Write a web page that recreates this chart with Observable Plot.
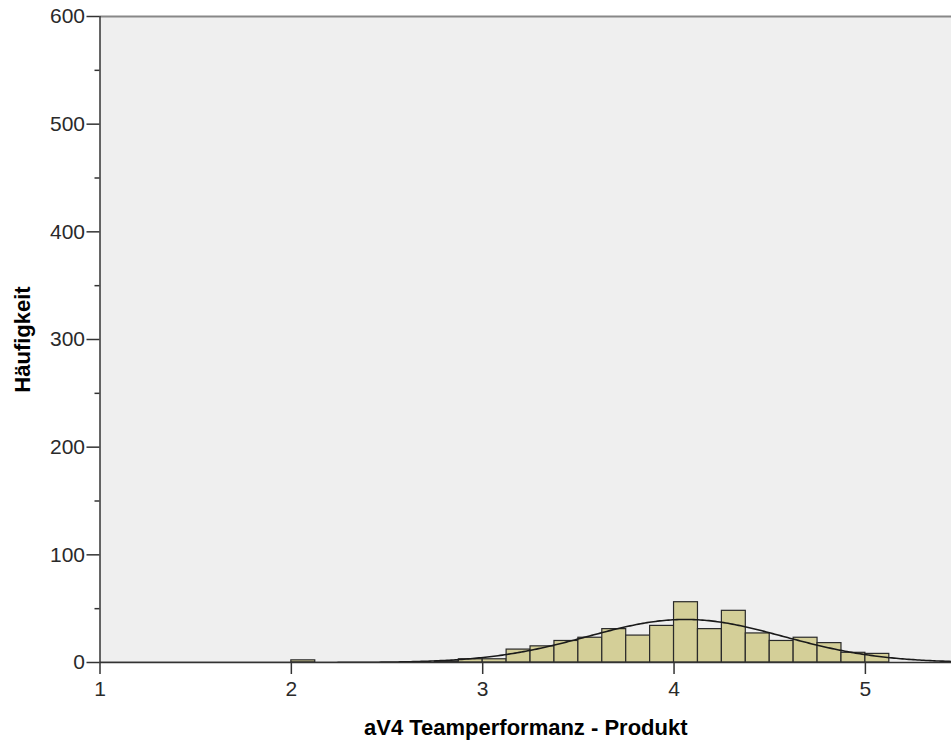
<!DOCTYPE html>
<html>
<head>
<meta charset="utf-8">
<script src="https://cdn.jsdelivr.net/npm/d3@7"></script>
<script src="https://cdn.jsdelivr.net/npm/@observablehq/plot@0.6"></script>
<style>
  html, body { margin: 0; padding: 0; background: #fff; }
  #chart svg { display: block; }
</style>
</head>
<body>
<div id="chart"></div>
<script>
// Histogram bins: lower edge of each bin and its frequency (bin width 0.125)
const binWidth = 0.125;
const binLower = [2.0, 2.75, 2.875, 3.0, 3.125, 3.25, 3.375, 3.5, 3.625, 3.75,
                  3.875, 4.0, 4.125, 4.25, 4.375, 4.5, 4.625, 4.75, 4.875, 5.0];
const binCount = [2, 1, 3, 3, 12, 15, 20, 23, 31, 25,
                  34, 56, 31, 48, 27, 20, 23, 18, 9, 8];

// Fitted normal curve parameters
const normalMean = 4.06;
const normalSD = 0.51;

// Axis ticks
const xTicks = [1, 2, 3, 4, 5];
const yTicks = [0, 100, 200, 300, 400, 500, 600];
const yMinorTicks = [50, 150, 250, 350, 450, 550];

const xDomain = [1, 5.45];
const yDomain = [0, 600];

const bins = binLower.map((x0, i) => ({x1: x0, x2: x0 + binWidth, count: binCount[i]}));
const total = d3.sum(binCount);

// Normal density scaled to counts per bin
const curve = d3.range(0, 401).map(i => {
  const x = xDomain[0] + (xDomain[1] - xDomain[0]) * i / 400;
  const z = (x - normalMean) / normalSD;
  return {x, y: total * binWidth * Math.exp(-0.5 * z * z) / (normalSD * Math.sqrt(2 * Math.PI))};
});

const font = "'Liberation Sans', Arial, sans-serif";

const chart = Plot.plot({
  width: 951,
  height: 740,
  marginLeft: 99.5,
  marginRight: 0,
  marginTop: 16,
  marginBottom: 78,
  style: {fontFamily: font, fontSize: "21px", color: "#222", background: "#fff"},
  x: {domain: xDomain},
  y: {domain: yDomain},
  marks: [
    Plot.frame({fill: "#efefef", stroke: null}),
    Plot.rectY(bins, {x1: "x1", x2: "x2", y: "count", fill: "#d4cf98", stroke: "#2a2a2a", strokeWidth: 1.2}),
    Plot.line(curve, {x: "x", y: "y", stroke: "#1a1a1a", strokeWidth: 1.6, clip: true}),
    Plot.ruleY([600], {stroke: "#888", strokeWidth: 2}),
    Plot.ruleY([0], {stroke: "#333", strokeWidth: 1.5}),
    Plot.ruleX([1], {stroke: "#333", strokeWidth: 1.5}),
    Plot.axisY(yTicks, {tickSize: 13, tickPadding: 2, tickFormat: d3.format("d"), stroke: "#333", strokeWidth: 1.5, label: null, fill: "#2a2a2a"}),
    Plot.axisY(yMinorTicks, {tickSize: 5, tickFormat: () => "", stroke: "#333", strokeWidth: 1.5, label: null}),
    Plot.axisX(xTicks, {tickSize: 12, tickPadding: 7, tickFormat: d3.format("d"), stroke: "#333", strokeWidth: 1.5, label: null, fill: "#2a2a2a"}),
    Plot.text(["Häufigkeit"], {frameAnchor: "left", dx: -77, rotate: -90, text: d => d,
      fontWeight: "bold", fontSize: 22, fill: "#000", textAnchor: "middle", lineAnchor: "middle"}),
    Plot.text(["aV4 Teamperformanz - Produkt"], {frameAnchor: "bottom", dy: 65, text: d => d,
      fontWeight: "bold", fontSize: 22, fill: "#000", textAnchor: "middle", lineAnchor: "middle"})
  ]
});

document.getElementById("chart").appendChild(chart);
</script>
</body>
</html>
